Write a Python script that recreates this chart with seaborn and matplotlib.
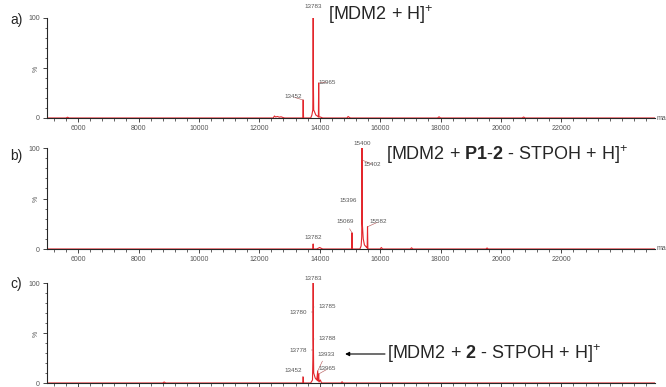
import matplotlib
matplotlib.use("Agg")
import matplotlib.pyplot as plt
import seaborn as sns
import pandas as pd
from matplotlib.ticker import MultipleLocator

# spectrum a) : MDM2 alone
mz_a = [4970, 5600, 5650, 5700, 12460, 12500, 12540, 12600, 12660, 12720, 12780, 12840,
        13440, 13452, 13464, 13700, 13740, 13770, 13778, 13783, 13788, 13800, 13830, 13870,
        13920, 13955, 13965, 13975, 14020, 14100, 14900, 14940, 14980, 15020, 17900, 17950,
        18000, 20700, 20750, 20800, 25100]
int_a = [0, 0, 0.8, 0, 0, 2.0, 1.0, 1.5, 0.8, 1.2, 0.5, 0,
         0, 18, 0, 0, 3, 8, 46, 100, 40, 8, 6, 3,
         2, 1, 35, 1, 1, 0, 0, 1.5, 0.6, 0, 0, 1.2,
         0, 0, 1.0, 0, 0]
labels_a = ["13783", "13965", "13452"]
label_mz_a = [13783, 13965, 13452]
label_int_a = [100, 35, 18]

# spectrum b) : MDM2 + P1-2
mz_b = [4970, 13770, 13782, 13794, 13900, 14000, 14040, 14100, 15060, 15069, 15078,
        15330, 15370, 15390, 15396, 15400, 15402, 15410, 15440, 15480, 15540, 15570,
        15582, 15594, 15650, 16000, 16040, 16080, 17000, 17040, 17080, 19500, 19540,
        19580, 25100]
int_b = [0, 0, 5, 0, 0, 1.5, 0.8, 0, 0, 16, 0,
         0, 3, 12, 45, 100, 88, 25, 10, 4, 2, 1,
         22, 0, 0, 0, 1.5, 0, 0, 1.2, 0, 0, 1.0,
         0, 0]
labels_b = ["15400", "15402", "15396", "15069", "15582", "13782"]
label_mz_b = [15400, 15402, 15396, 15069, 15582, 13782]
label_int_b = [100, 88, 45, 16, 22, 5]

# spectrum c) : MDM2 + 2
mz_c = [4970, 8800, 8850, 8900, 13440, 13452, 13464, 13700, 13760, 13778, 13780, 13783,
        13785, 13788, 13800, 13850, 13900, 13933, 13945, 13965, 13978, 14020, 14060,
        14700, 14740, 14780, 25100]
int_c = [0, 0, 1.0, 0, 0, 6, 0, 0, 3, 33, 71, 100,
         76, 44, 10, 5, 3, 12, 2, 9, 1, 3, 0,
         0, 1.2, 0, 0]
labels_c = ["13783", "13785", "13780", "13788", "13778", "13933", "13965", "13452"]
label_mz_c = [13783, 13785, 13780, 13788, 13778, 13933, 13965, 13452]
label_int_c = [100, 76, 71, 44, 33, 12, 9, 6]

# label text positions (m/z, %)
text_pos_a = [(13783, 111), (14260, 36), (13120, 21)]
text_pos_b = [(15400, 104), (15750, 84), (14950, 48), (14850, 27), (15950, 27), (13782, 11)]
text_pos_c = [(13783, 105), (14260, 76), (13280, 71), (14260, 44), (13280, 33),
              (14200, 29), (14260, 14), (13120, 13)]

sns.set_style("ticks")
plt.rcParams["font.family"] = ["Liberation Sans", "DejaVu Sans"]
plt.rcParams["mathtext.fontset"] = "custom"
plt.rcParams["mathtext.rm"] = "Liberation Sans"
plt.rcParams["mathtext.bf"] = "Liberation Sans:bold"

red = "#e3262c"
grey = "#555555"

fig = plt.figure(figsize=(6.66, 3.87), dpi=100)
left, width = 47 / 666, (655 - 47) / 666
boxes = [(1 - 118 / 387, 100 / 387), (1 - 249 / 387, 101 / 387), (1 - 383 / 387, 100 / 387)]

spectra = [(mz_a, int_a, labels_a, label_mz_a, label_int_a, text_pos_a),
           (mz_b, int_b, labels_b, label_mz_b, label_int_b, text_pos_b),
           (mz_c, int_c, labels_c, label_mz_c, label_int_c, text_pos_c)]
axes = []
for (bottom, height), (mz, inten, labs, lmz, lint, tpos) in zip(boxes, spectra):
    ax = fig.add_axes([left, bottom, width, height])
    df = pd.DataFrame({"mz": mz, "intensity": inten})
    sns.lineplot(data=df, x="mz", y="intensity", ax=ax, color=red, lw=0.8,
                 estimator=None, sort=False)
    ax.set_xlim(4970, 25100)
    ax.set_ylim(0, 100)
    ax.set_xlabel("")
    ax.set_ylabel("")
    sns.despine(ax=ax)
    ax.spines["left"].set_linewidth(0.8)
    ax.spines["bottom"].set_linewidth(0.8)
    ax.set_xticks(range(6000, 24000, 2000))
    ax.xaxis.set_minor_locator(MultipleLocator(400))
    ax.set_yticks([0, 50, 100])
    ax.set_yticklabels(["0", "%", "100"])
    ax.yaxis.set_minor_locator(MultipleLocator(10))
    ax.tick_params(axis="both", which="major", length=3, width=0.6, labelsize=5,
                   labelcolor=grey, pad=2)
    ax.tick_params(axis="both", which="minor", length=1.8, width=0.5)
    ax.get_yticklabels()[1].set_rotation(90)
    for lab, pmz, pint, (tx, ty) in zip(labs, lmz, lint, tpos):
        if tx == pmz:
            ax.text(tx, ty, lab, fontsize=4.5, color=grey, ha="center", va="center")
        else:
            ax.annotate(lab, xy=(pmz, pint), xytext=(tx, ty), fontsize=4.5, color=grey,
                        ha="center", va="center",
                        arrowprops=dict(arrowstyle="-", color="#b05050", lw=0.4,
                                        shrinkA=1, shrinkB=0))
    axes.append(ax)

# the m/z unit label sits at the right end of the upper two axes
for ax in axes[:2]:
    ax.text(1.003, 0, "ma", transform=ax.transAxes, fontsize=5, color=grey,
            va="center", ha="left")
# bottom panel's tick labels fall outside the picture
axes[2].tick_params(axis="x", labelbottom=False)

axes[0].text(14280, 103, r"[MDM2 + H]$^{+}$", fontsize=13, va="center", ha="left")
axes[1].text(16200, 93, r"[MDM2 + $\mathbf{P1}$-$\mathbf{2}$ - STPOH + H]$^{+}$",
             fontsize=13, va="center", ha="left")
axes[2].text(16230, 29, r"[MDM2 + $\mathbf{2}$ - STPOH + H]$^{+}$",
             fontsize=13, va="center", ha="left")
axes[2].annotate("", xy=(14840, 29), xytext=(16160, 29),
                 arrowprops=dict(arrowstyle="-|>", color="black", lw=0.8,
                                 mutation_scale=6, shrinkA=0, shrinkB=0))

for lab, y in zip(["a)", "b)", "c)"], [20, 156, 284]):
    fig.text(10 / 666, 1 - y / 387, lab, fontsize=10, va="center", ha="left")

fig.savefig("out.png", dpi=100)
